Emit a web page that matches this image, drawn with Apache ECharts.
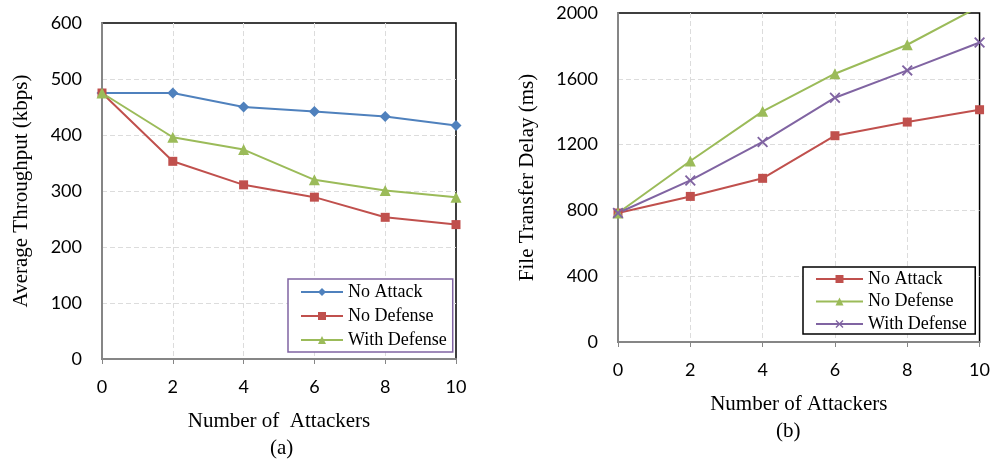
<!DOCTYPE html>
<html><head><meta charset="utf-8">
<script src="https://cdn.jsdelivr.net/npm/echarts@6/dist/echarts.min.js"></script>
<style>html,body{margin:0;padding:0;background:#fff}#c{width:993px;height:462px}</style>
</head><body><div id="c"></div>
<script>
const attackers = [0, 2, 4, 6, 8, 10];
// (a) Average Throughput (kbps)
const thrNoAttack = [475, 475, 450, 442, 433, 417];
const thrNoDefense = [475, 353, 311, 289, 253, 240];
const thrWithDefense = [475, 396, 374, 320, 301, 289];
// (b) File Transfer Delay (ms)
const delNoAttack = [784, 885, 995, 1254, 1337, 1412];
const delNoDefense = [784, 1100, 1402, 1631, 1807, 2040];
const delWithDefense = [784, 982, 1216, 1485, 1651, 1821];
const seriesNames = ['No Attack', 'No Defense', 'With Defense'];

const pairs = ys => attackers.map((x, i) => [x, ys[i]]);
const C = {blue:'#4F81BD', red:'#C0504D', green:'#9BBB59', purple:'#8064A2'};
const X_PATH = 'path://M0,1.2 L1.2,0 L5,3.8 L8.8,0 L10,1.2 L6.2,5 L10,8.8 L8.8,10 L5,6.2 L1.2,10 L0,8.8 L3.8,5 Z';
const serif = 'Liberation Serif';
const sans = 'Lato';

function xAxis(gi, name) {
  return {
    type:'value', gridIndex:gi, min:0, max:10, interval:2,
    name:name, nameLocation:'middle', nameGap: 52,
    nameTextStyle:{fontFamily:serif, fontSize:21, color:'#000'},
    axisLine:{lineStyle:{color:'#868686', width:2}},
    axisTick:{show:true, length:5, lineStyle:{color:'#868686'}},
    axisLabel:{fontFamily:sans, fontSize:18, color:'#000', margin:19},
    splitLine:{show:true, showMinLine:false, showMaxLine:false, lineStyle:{color:'#DCDCDC', type:[5,3]}}
  };
}
function yAxis(gi, max, interval, name, gap) {
  return {
    type:'value', gridIndex:gi, min:0, max:max, interval:interval,
    name:name, nameLocation:'middle', nameGap:gap,
    nameTextStyle:{fontFamily:serif, fontSize:21, color:'#000'},
    axisLine:{show:true, lineStyle:{color:'#868686', width:2}},
    axisTick:{show:false},
    axisLabel:{fontFamily:sans, fontSize:18, color:'#000', margin:20, formatter: v => String(v)},
    splitLine:{show:true, showMinLine:false, showMaxLine:false, lineStyle:{color:'#DCDCDC', type:[5,3]}}
  };
}
function line(name, gi, data, color, symbol, size) {
  return {
    type:'line', name:name, xAxisIndex:gi, yAxisIndex:gi, data:data,
    symbol:symbol, symbolSize:size, clip:true,
    lineStyle:{color:color, width:2},
    itemStyle:{color:color},
    emphasis:{disabled:true}
  };
}
const legendBase = {
  orient:'vertical', backgroundColor:'#fff', borderWidth:1.5,
  textStyle:{fontFamily:serif, fontSize:18, color:'#000', lineHeight:18},
  itemHeight:10
};

const chart = echarts.init(document.getElementById('c'), null, {renderer:'canvas'});
chart.setOption({
  animation:false,
  grid:[
    {left:102, top:23, width:354, height:336, show:true, borderColor:'#000', borderWidth:1.5},
    {left:618, top:13, width:362, height:329, show:true, borderColor:'#000', borderWidth:1.5}
  ],
  xAxis:[xAxis(0, 'Number of  Attackers'), xAxis(1, 'Number of Attackers')],
  yAxis:[
    yAxis(0, 600, 100, 'Average Throughput (kbps)', 70),
    yAxis(1, 2000, 400, 'File Transfer Delay (ms)', 80)
  ],
  legend:[
    Object.assign({}, legendBase, {
      left:288, top:279, borderColor:C.purple,
      padding:[4, 6, 3, 12], itemGap:6, itemWidth:42,
      data:['No Attack', 'No Defense', 'With Defense']
    }),
    Object.assign({}, legendBase, {
      left:803, top:267, borderColor:'#000',
      padding:[3, 4, 1, 12], itemGap:4.5, itemWidth:47,
      data:['No Attack ', 'No Defense ', 'With Defense ']
    })
  ],
  graphic:[
    {type:'text', left:270, top:438, style:{text:'(a)', font:'21px "Liberation Serif"', fill:'#000'}},
    {type:'text', left:776, top:421, style:{text:'(b)', font:'21px "Liberation Serif"', fill:'#000'}}
  ],
  series:[
    line(seriesNames[0], 0, pairs(thrNoAttack), C.blue, 'diamond', 11),
    line(seriesNames[1], 0, pairs(thrNoDefense), C.red, 'rect', 9),
    line(seriesNames[2], 0, pairs(thrWithDefense), C.green, 'triangle', 11),
    line(seriesNames[0] + ' ', 1, pairs(delNoAttack), C.red, 'rect', 9),
    line(seriesNames[1] + ' ', 1, pairs(delNoDefense), C.green, 'triangle', 11),
    line(seriesNames[2] + ' ', 1, pairs(delWithDefense), C.purple, X_PATH, 11)
  ]
});
</script></body></html>
